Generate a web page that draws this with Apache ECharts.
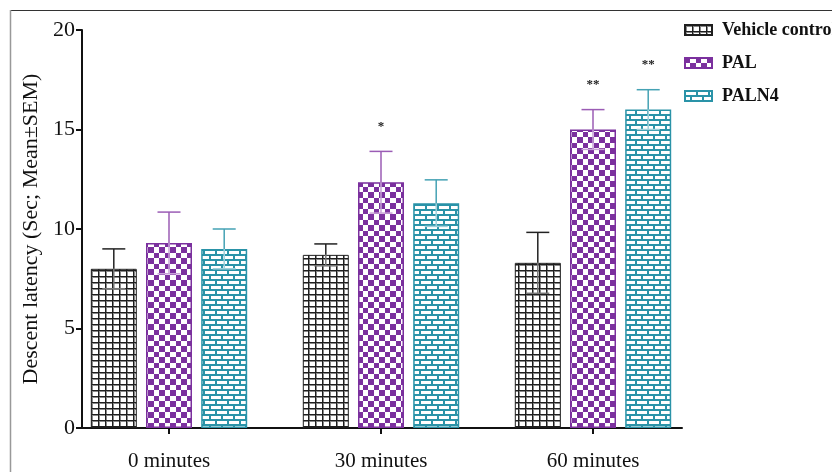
<!DOCTYPE html>
<html>
<head>
<meta charset="utf-8">
<script src="https://cdn.jsdelivr.net/npm/echarts@6/dist/echarts.min.js"></script>
<style>html,body{margin:0;padding:0;background:#fff;}#c{width:832px;height:472px;}</style>
</head>
<body>
<div id="c"></div>
<script>
const categories = ['0 minutes', '30 minutes', '60 minutes'];
const seriesNames = ['Vehicle control', 'PAL', 'PALN4'];
const vehicleMean = [8.0, 8.7, 8.3];
const vehicleSem = [1.0, 0.55, 1.53];
const palMean = [9.3, 12.35, 15.0];
const palSem = [1.55, 1.55, 1.0];
const paln4Mean = [9.0, 11.3, 16.0];
const paln4Sem = [1.0, 1.17, 1.0];
const vehicleSig = ['', '', ''];
const palSig = ['', '*', '**'];
const paln4Sig = ['', '', '**'];
const yTicks = { min: 0, max: 20, interval: 5 };

const BLACK = '#1e1e1e', PURPLE = '#7b309e', TEAL = '#2a93a8';
const ERR_COLORS = ['#222222', '#9b5cb5', '#45a2b4'];
const ERR_LIGHT = ['#777777', '#c9a3d8', '#9fd0da'];
const FONT = '"Liberation Serif", "Times New Roman", serif';

function gridPattern() {
  const c = document.createElement('canvas'); c.width = 7; c.height = 6;
  const g = c.getContext('2d');
  g.fillStyle = '#fff'; g.fillRect(0, 0, 7, 6);
  g.fillStyle = '#888'; g.fillRect(0, 1, 7, 1); g.fillRect(1, 0, 1, 6);
  g.fillStyle = BLACK; g.fillRect(0, 0, 7, 1); g.fillRect(0, 0, 1, 6);
  return c;
}
function checkPattern() {
  const c = document.createElement('canvas'); c.width = 11; c.height = 11;
  const g = c.getContext('2d');
  g.fillStyle = '#fff'; g.fillRect(0, 0, 11, 11);
  g.fillStyle = PURPLE; g.fillRect(0, 0, 5, 5); g.fillRect(5, 5, 6, 6);
  return c;
}
function brickPattern() {
  const c = document.createElement('canvas'); c.width = 12; c.height = 10;
  const g = c.getContext('2d');
  g.fillStyle = TEAL; g.fillRect(0, 0, 12, 10);
  g.fillStyle = '#fff';
  g.fillRect(1, 1, 10, 3);
  g.fillRect(7, 6, 10, 3); g.fillRect(-5, 6, 10, 3);
  return c;
}

const means = [vehicleMean, palMean, paln4Mean];
const sems = [vehicleSem, palSem, paln4Sem];
const sigs = [vehicleSig, palSig, paln4Sig];
const fills = [gridPattern(), checkPattern(), brickPattern()];
const borders = [BLACK, PURPLE, TEAL];
const BAR_W = 46, BAR_GAP = 0.2;
const OFFS = [-1, 0, 1].map(k => k * BAR_W * (1 + BAR_GAP));

const barSeries = seriesNames.map((n, i) => ({
  name: n, type: 'bar', xAxisIndex: 1, yAxisIndex: 1,
  data: means[i], barWidth: BAR_W, barGap: (BAR_GAP * 100) + '%',
  itemStyle: { color: { image: fills[i], repeat: 'repeat' }, borderColor: borders[i], borderWidth: i === 0 ? 1 : 1.5 },
  z: 2
}));

const errSeries = seriesNames.map((n, i) => ({
  name: 'err' + i, type: 'custom', xAxisIndex: 1, yAxisIndex: 1, z: 5,
  data: categories.map((c, j) => [j, means[i][j], sems[i][j], j]),
  renderItem: function (params, api) {
    const x = api.value(0), m = api.value(1), s = api.value(2), j = api.value(3);
    const top = api.coord([x, m]);
    const hi = api.coord([x, m + s]);
    const lo = api.coord([x, m - s]);
    const cx = top[0] + OFFS[i];
    const cap = 11.5;
    const els = [
      { type: 'line', shape: { x1: cx, y1: top[1], x2: cx, y2: lo[1] }, style: { stroke: ERR_LIGHT[i], lineWidth: 1.5 } },
      { type: 'line', shape: { x1: cx - cap, y1: lo[1], x2: cx + cap, y2: lo[1] }, style: { stroke: ERR_LIGHT[i], lineWidth: 1.5 } },
      { type: 'line', shape: { x1: cx, y1: top[1], x2: cx, y2: hi[1] }, style: { stroke: ERR_COLORS[i], lineWidth: 1.5 } },
      { type: 'line', shape: { x1: cx - cap, y1: hi[1], x2: cx + cap, y2: hi[1] }, style: { stroke: ERR_COLORS[i], lineWidth: 1.5 } }
    ];
    const t = sigs[i][j];
    if (t) {
      els.push({ type: 'text', style: { text: t, x: cx, y: hi[1] - 25, align: 'center', verticalAlign: 'middle', fill: '#222', font: 'bold 13px ' + FONT } });
    }
    return { type: 'group', children: els };
  }
}));

const chart = echarts.init(document.getElementById('c'), null, { renderer: 'canvas' });
chart.setOption({
  animation: false,
  backgroundColor: '#fff',
  graphic: [
    { type: 'line', shape: { x1: 10, y1: 10.5, x2: 832, y2: 10.5 }, style: { stroke: '#333', lineWidth: 1 }, silent: true },
    { type: 'line', shape: { x1: 10.5, y1: 10, x2: 10.5, y2: 472 }, style: { stroke: '#999', lineWidth: 1.5 }, silent: true }
  ],
  legend: {
    data: seriesNames, orient: 'vertical', left: 679, top: 16, icon: 'rect',
    itemWidth: 27, itemHeight: 10, itemGap: 15,
    textStyle: { fontFamily: FONT, fontWeight: 'bold', fontSize: 18, color: '#111', padding: [0, 0, 0, 5] }
  },
  grid: [
    { left: 82, top: 30, width: 600, height: 398, containLabel: false },
    { left: 63, top: 30, width: 636, height: 398, containLabel: false }
  ],
  xAxis: [
    { type: 'value', gridIndex: 0, min: 0, max: 1, axisLine: { show: true, onZero: false, lineStyle: { color: '#111', width: 2 } }, axisTick: { show: false }, axisLabel: { show: false }, splitLine: { show: false } },
    { type: 'category', gridIndex: 1, data: categories, axisLine: { show: false }, axisTick: { show: true, alignWithLabel: true, length: 6, lineStyle: { color: '#111', width: 2 } },
      axisLabel: { fontFamily: FONT, fontSize: 21, color: '#111', margin: 23 } }
  ],
  yAxis: [
    { type: 'value', gridIndex: 0, min: yTicks.min, max: yTicks.max, interval: yTicks.interval,
      name: 'Descent latency (Sec; Mean±SEM)', nameLocation: 'middle', nameGap: 31,
      nameTextStyle: { fontFamily: FONT, fontSize: 22, color: '#111' },
      axisLine: { show: true, lineStyle: { color: '#111', width: 2 } },
      axisTick: { show: true, inside: false, length: 6, lineStyle: { color: '#111', width: 2 } },
      axisLabel: { fontFamily: FONT, fontSize: 22, color: '#111', margin: 7 },
      splitLine: { show: false } },
    { type: 'value', gridIndex: 1, min: yTicks.min, max: yTicks.max, interval: yTicks.interval, show: false, splitLine: { show: false } }
  ],
  series: barSeries.concat(errSeries)
});
</script>
</body>
</html>
